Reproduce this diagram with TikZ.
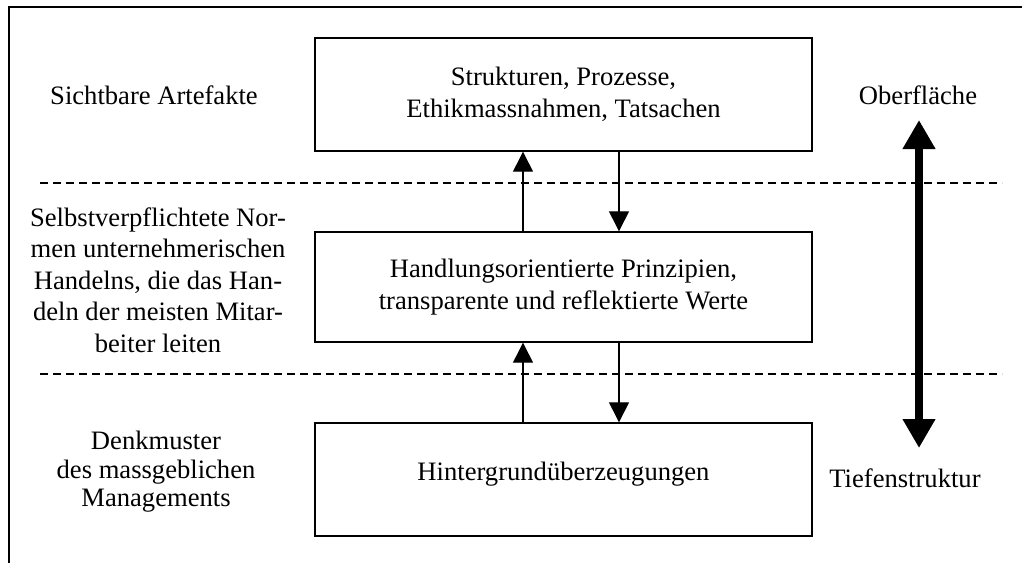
\documentclass[tikz,border=0pt]{standalone}
\usepackage{fontspec}
\setmainfont{Liberation Serif}
\usetikzlibrary{arrows.meta}
\begin{document}
\begin{tikzpicture}[x=1pt,y=-1pt,
  txt/.style={font=\fontsize{26.6}{31.5}\selectfont, align=center, inner sep=0pt},
  box/.style={draw, line width=1.4pt, inner sep=0pt, minimum width=497pt, txt},
  sep/.style={line width=1.3pt, dash pattern=on 8pt off 5pt},
  flow/.style={line width=1.3pt, -{Triangle[width=20pt,length=20pt]}},
  big/.style={line width=8pt, {Triangle[width=31pt,length=29pt]}-{Triangle[width=31pt,length=29pt]}}]
\useasboundingbox (0,0) rectangle (1022,563);
% frame
\coordinate (fl) at (9,563);
\coordinate (fc) at (9,7);
\coordinate (fr) at (1022,7);
\draw[line width=1.6pt] (fl) -- (fc) -- (fr);
% dashed separators
\coordinate (d1a) at (40,183);
\coordinate (d1b) at (1002,183);
\coordinate (d2a) at (40,374);
\coordinate (d2b) at (1002,374);
\draw[sep] (d1a) -- (d1b);
\draw[sep] (d2a) -- (d2b);
% boxes
\node[box, minimum height=113pt] (b1) at (563.5,94.5) {Strukturen, Prozesse,\\Ethikmassnahmen, Tatsachen};
\node[box, minimum height=110pt] (b2) at (563.5,287) {Handlungsorientierte Prinzipien,\\transparente und reflektierte Werte};
\node[box, minimum height=113pt] (b3) at (563.5,479.5) {};
\node[txt] (t3) at (563.5,474) {Hintergrundüberzeugungen};
% arrows
\coordinate (xu) at (523,0);
\coordinate (xd) at (619,0);
\draw[flow] (b2.north -| xu) -- (b1.south -| xu);
\draw[flow] (b1.south -| xd) -- (b2.north -| xd);
\draw[flow] (b3.north -| xu) -- (b2.south -| xu);
\draw[flow] (b2.south -| xd) -- (b3.north -| xd);
% left labels
\node[txt] (l1) at (154,95) {Sichtbare Artefakte};
\node[txt] (l2) at (158,280) {Selbstverpflichtete Nor-\\men unternehmerischen\\Handelns, die das Han-\\deln der meisten Mitar-\\beiter leiten};
\node[txt, font=\fontsize{26.6}{28.5}\selectfont] (l3) at (156,472) {Denkmuster\\des massgeblichen\\Managements};
% right labels
\node[txt] (r1) at (918,95) {Oberfläche};
\node[txt] (r2) at (905,478) {Tiefenstruktur};
\coordinate (at) at (919,120);
\coordinate (ab) at (919,448);
\draw[big] (ab) -- (at);
\end{tikzpicture}
\end{document}
